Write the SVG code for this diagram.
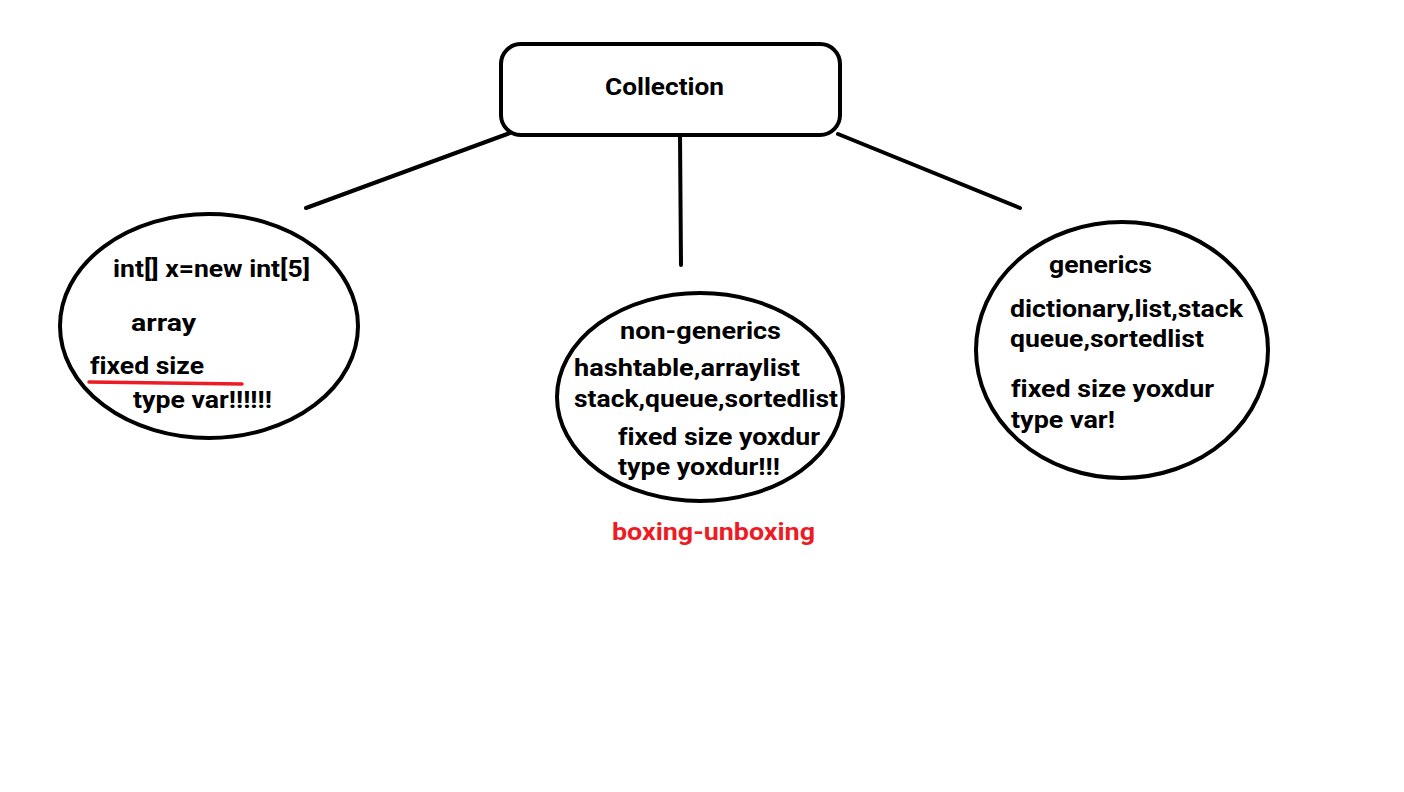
<svg xmlns="http://www.w3.org/2000/svg" width="1404" height="792" viewBox="0 0 1404 792">
<style>
.s{fill:none;stroke:#000;stroke-width:4;stroke-linecap:round}
.t{font-family:Roboto,"Liberation Sans",sans-serif;font-weight:bold;font-size:23px;fill:#000;font-variant-ligatures:none}
.r{fill:#ed1c24}
</style>
<rect width="1404" height="792" fill="#fff"/>
<g id="connectors">
<line class="s" x1="510" y1="133" x2="306" y2="208"/>
<line class="s" x1="680" y1="135" x2="681" y2="265"/>
<line class="s" x1="838" y1="134" x2="1020" y2="208"/>
</g>
<g id="collection">
<rect class="s" x="501" y="44" width="339" height="91" rx="20"/>
<text class="t" x="605" y="95" textLength="119" lengthAdjust="spacingAndGlyphs">Collection</text>
</g>
<g id="array">
<ellipse class="s" cx="209" cy="326" rx="149" ry="112"/>
<text class="t" x="113" y="277" textLength="197" lengthAdjust="spacingAndGlyphs">int[] x=new int[5]</text>
<text class="t" x="131" y="331" textLength="65" lengthAdjust="spacingAndGlyphs">array</text>
<text class="t" x="90" y="374" textLength="114" lengthAdjust="spacingAndGlyphs">fixed size</text>
<line x1="89" y1="382" x2="242" y2="384" stroke="#ed1c24" stroke-width="3.5" stroke-linecap="round"/>
<text class="t" x="133" y="408" textLength="139" lengthAdjust="spacingAndGlyphs">type var!!!!!!</text>
</g>
<g id="non-generics">
<ellipse class="s" cx="700" cy="397" rx="143" ry="104"/>
<text class="t" x="620" y="339" textLength="161" lengthAdjust="spacingAndGlyphs">non-generics</text>
<text class="t" x="574" y="376" textLength="226" lengthAdjust="spacingAndGlyphs">hashtable,arraylist</text>
<text class="t" x="574" y="407" textLength="264" lengthAdjust="spacingAndGlyphs">stack,queue,sortedlist</text>
<text class="t" x="618" y="445" textLength="202" lengthAdjust="spacingAndGlyphs">fixed size yoxdur</text>
<text class="t" x="618" y="475" textLength="162" lengthAdjust="spacingAndGlyphs">type yoxdur!!!</text>
</g>
<g id="boxing">
<text class="t r" x="612" y="540" textLength="203" lengthAdjust="spacingAndGlyphs">boxing-unboxing</text>
</g>
<g id="generics">
<ellipse class="s" cx="1122" cy="350" rx="146" ry="128"/>
<text class="t" x="1049" y="273" textLength="103" lengthAdjust="spacingAndGlyphs">generics</text>
<text class="t" x="1010" y="317" textLength="233" lengthAdjust="spacingAndGlyphs">dictionary,list,stack</text>
<text class="t" x="1010" y="347" textLength="194" lengthAdjust="spacingAndGlyphs">queue,sortedlist</text>
<text class="t" x="1011" y="397" textLength="203" lengthAdjust="spacingAndGlyphs">fixed size yoxdur</text>
<text class="t" x="1011" y="428" textLength="104" lengthAdjust="spacingAndGlyphs">type var!</text>
</g>
</svg>
